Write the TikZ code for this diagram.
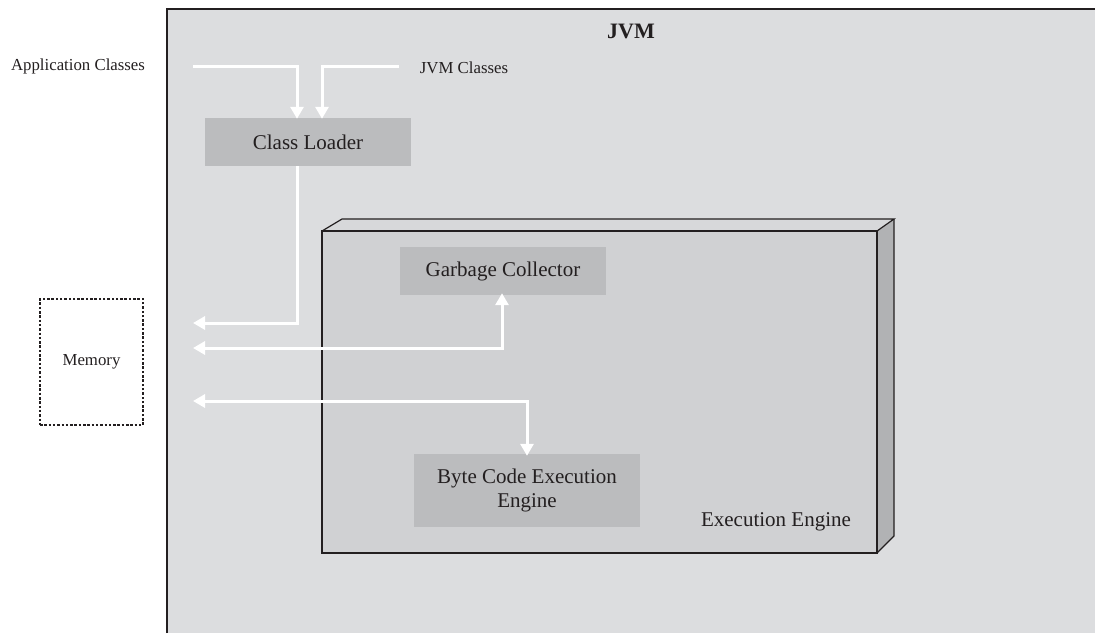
\documentclass[tikz,border=0pt]{standalone}
\usepackage{fontspec}
\setmainfont{Liberation Serif}
\usetikzlibrary{arrows.meta}
\definecolor{jvmbg}{HTML}{DCDDDF}
\definecolor{eefront}{HTML}{D0D1D3}
\definecolor{eetop}{HTML}{D7D8DA}
\definecolor{eeside}{HTML}{B1B2B4}
\definecolor{boxfill}{HTML}{BBBCBE}
\definecolor{ink}{HTML}{231F20}
\tikzset{
  big/.style={font=\fontsize{21}{25}\selectfont, text=ink},
  small/.style={font=\fontsize{16.8}{20}\selectfont, text=ink},
  graybox/.style={big, fill=boxfill, inner sep=0pt, align=center},
  warrow/.style={draw=white, line width=3pt, -{Triangle[length=12pt,width=13pt]}},
  wdouble/.style={draw=white, line width=3pt, {Triangle[length=12pt,width=13pt]}-{Triangle[length=12pt,width=13pt]}},
  outline/.style={draw=ink, line width=1.2pt}
}
\begin{document}
\begin{tikzpicture}[x=1pt,y=-1pt]
\useasboundingbox (0,0) rectangle (1095,633);
% JVM area
\fill[jvmbg] (167,9) rectangle (1095,633);
\draw[ink, line width=2pt] (167,633) -- (167,9) -- (1095,9);
\node[font=\fontsize{22}{26}\selectfont\bfseries, text=ink] (jvm) at (631,31) {JVM};

% Execution engine 3D box
\fill[eefront] (322,231) rectangle (877,553);
\fill[eetop] (322,231) -- (342,219) -- (894,219) -- (877,231) -- cycle;
\fill[eeside] (877,231) -- (894,219) -- (894,536) -- (877,553) -- cycle;
\draw[outline, line join=miter] (322,231) rectangle (877,553);
\draw[outline] (322,231) -- (342,219) -- (894,219) -- (877,231);
\draw[outline] (894,219) -- (894,536) -- (877,553);
\node[big] (eelabel) at (776,522) {Execution Engine};

% labels
\node[small] (appc) at (78,66) {Application Classes};
\node[small] (jvmc) at (464,68) {JVM Classes};

% boxes
\node[graybox, minimum width=206pt, minimum height=48pt] (cl) at (308,142) {Class Loader};
\node[graybox, minimum width=206pt, minimum height=48pt] (gc) at (503,271) {Garbage Collector};
\node[graybox, minimum width=226pt, minimum height=73pt] (bce) at (527,490.5) {Byte Code Execution\\[-1pt]Engine};
\node[small, draw=ink, dashed, dash pattern=on 2.5pt off 1.8pt, line width=1.2pt, minimum width=103pt, minimum height=126pt, inner sep=0pt] (mem) at (91.5,362) {Memory};

% connector endpoints
\coordinate (appstart) at (193,66);
\coordinate (jvmstart) at (399,66);
\coordinate (m1) at (193,323);
\coordinate (m2) at (193,348);
\coordinate (m3) at (193,401);

% connectors
\draw[warrow] (appstart) -| ([xshift=-11pt,yshift=-1pt]cl.north);
\draw[warrow] (jvmstart) -| ([xshift=14pt,yshift=-1pt]cl.north);
\draw[warrow] ([xshift=-11pt]cl.south) |- (m1);
\draw[wdouble] (m2) -| ([xshift=-1pt,yshift=2pt]gc.south);
\draw[wdouble] (m3) -| ([yshift=-2pt]bce.north);
\end{tikzpicture}
\end{document}
